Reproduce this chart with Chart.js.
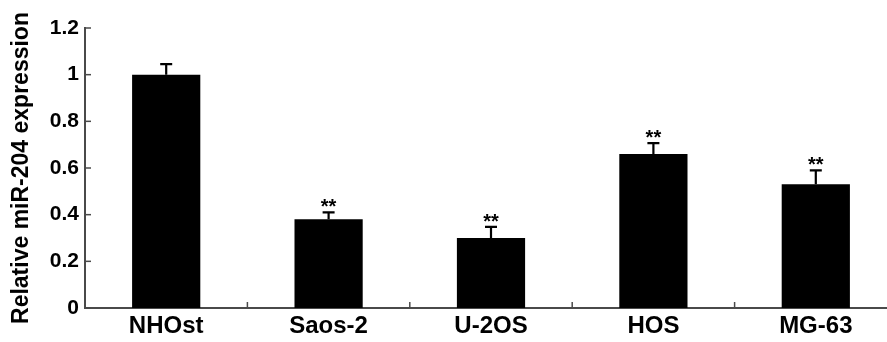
<!DOCTYPE html>
<html>
<head>
<meta charset="utf-8">
<script src="https://cdn.jsdelivr.net/npm/chart.js@4.4.1/dist/chart.umd.min.js"></script>
<style>
  html, body { margin: 0; padding: 0; background: #fff; overflow: hidden; }
  #wrap { width: 897px; height: 342px; }
</style>
</head>
<body>
<div id="wrap"><canvas id="mirChart" width="897" height="342"></canvas></div>
<script>
// values
var categories = ["NHOst", "Saos-2", "U-2OS", "HOS", "MG-63"];
var expression = [1.0, 0.38, 0.30, 0.66, 0.53];
var errUpper   = [0.045, 0.03, 0.048, 0.047, 0.06];
var stars      = ["", "**", "**", "**", "**"];
var yTicks     = [0, 0.2, 0.4, 0.6, 0.8, 1, 1.2];

var FONT = "'Liberation Sans', Arial, sans-serif";
var AXIS = "#4a4a4a";

// error bars, stars and the inward tick marks
var extras = {
  id: "extras",
  afterDatasetsDraw: function(chart) {
    var ctx = chart.ctx;
    var x = chart.scales.x, y = chart.scales.y;
    var area = chart.chartArea;
    ctx.save();

    // error bars (upper only)
    ctx.strokeStyle = "#000";
    ctx.lineWidth = 2.2;
    expression.forEach(function(v, i) {
      var cx = x.getPixelForValue(i);
      var y0 = y.getPixelForValue(v);
      var y1 = y.getPixelForValue(v + errUpper[i]);
      ctx.beginPath();
      ctx.moveTo(cx, y0);
      ctx.lineTo(cx, y1);
      ctx.moveTo(cx - 6, y1);
      ctx.lineTo(cx + 6, y1);
      ctx.stroke();
      if (stars[i]) {
        ctx.fillStyle = "#000";
        ctx.font = "bold 20px " + FONT;
        ctx.textAlign = "center";
        ctx.textBaseline = "alphabetic";
        ctx.fillText(stars[i], cx, y1 + 1);
      }
    });

    // inward ticks
    ctx.strokeStyle = AXIS;
    ctx.lineWidth = 1.5;
    yTicks.forEach(function(t) {
      var py = y.getPixelForValue(t);
      ctx.beginPath();
      ctx.moveTo(area.left, py);
      ctx.lineTo(area.left + 6, py);
      ctx.stroke();
    });
    for (var i = 0; i < categories.length - 1; i++) {
      var bx = (x.getPixelForValue(i) + x.getPixelForValue(i + 1)) / 2;
      ctx.beginPath();
      ctx.moveTo(bx, area.bottom);
      ctx.lineTo(bx, area.bottom - 6);
      ctx.stroke();
    }
    ctx.restore();
  }
};

var ctx = document.getElementById("mirChart").getContext("2d");
new Chart(ctx, {
  type: "bar",
  data: {
    labels: categories,
    datasets: [{
      data: expression,
      backgroundColor: "#000",
      borderWidth: 0,
      barPercentage: 0.42,
      categoryPercentage: 1.0
    }]
  },
  options: {
    responsive: false,
    animation: false,
    layout: { padding: { top: 28, right: 0, bottom: 0, left: 0 } },
    plugins: { legend: { display: false }, tooltip: { enabled: false } },
    scales: {
      x: {
        grid: { display: false, drawTicks: false },
        border: { display: true, color: AXIS, width: 2 },
        ticks: {
          color: "#000",
          padding: 4,
          maxRotation: 0,
          font: { family: FONT, size: 24, weight: "bold" }
        },
        afterFit: function(scale) { scale.height = 34; }
      },
      y: {
        min: 0,
        max: 1.2,
        afterBuildTicks: function(scale) {
          scale.ticks = yTicks.map(function(v) { return { value: v }; });
        },
        grid: { display: false, drawTicks: false },
        border: { display: true, color: AXIS, width: 2 },
        ticks: {
          color: "#000",
          padding: 6,
          font: { family: FONT, size: 21, weight: "bold" },
          callback: function(v) { return String(v); }
        },
        title: {
          display: true,
          text: "Relative miR-204 expression",
          color: "#000",
          padding: { top: 8, bottom: 0 },
          font: { family: FONT, size: 23, weight: "bold" }
        },
        afterFit: function(scale) { scale.width = 85; }
      }
    }
  },
  plugins: [extras]
});
</script>
</body>
</html>
